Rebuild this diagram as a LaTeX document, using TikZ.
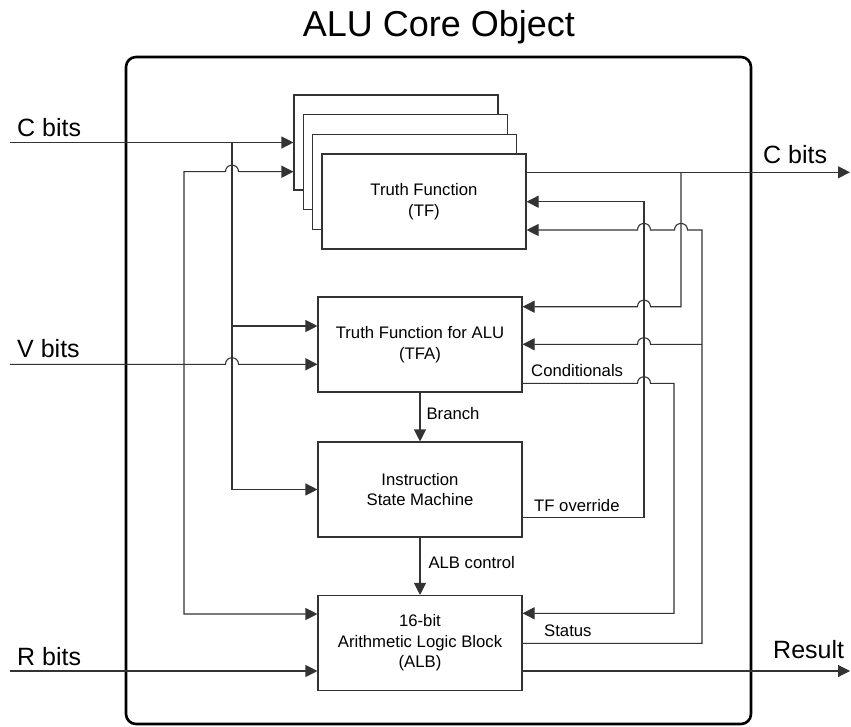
\documentclass[tikz,border=0pt]{standalone}
\usepackage{fontspec}
\setmainfont{Liberation Sans}
\usetikzlibrary{arrows.meta}

\begin{document}
\begin{tikzpicture}[x=1pt,y=-1pt,
  box/.style={draw=black!80, line width=1.1pt, fill=white, minimum width=204pt,
    minimum height=95pt, inner sep=0pt, align=center,
    font=\fontsize{16.7}{20.5}\selectfont},
  conn/.style={draw=black!80, line width=1.1pt},
  arr/.style={conn, -{Triangle[length=12pt,width=12pt]}},
  biarr/.style={conn, {Triangle[length=12pt,width=12pt]}-{Triangle[length=12pt,width=12pt]}},
  lbl/.style={font=\fontsize{16.7}{20.5}\selectfont, inner sep=0pt},
  biglbl/.style={font=\fontsize{25}{30}\selectfont, inner sep=0pt, anchor=base west},
  frame/.style={draw=black, line width=2.6pt, rounded corners=10pt}]

\useasboundingbox (0,0) rectangle (851,727);

% title and enclosing object
\node[font=\fontsize{36}{42}\selectfont, inner sep=0pt, anchor=base] (title) at (439,37) {ALU Core Object};
\draw[frame] (126,57) rectangle (751,724);

% stack of truth function instances, back to front
\node[box] (tf1) at (396,142.5) {};
\node[box] (tf2) at (405.3,162) {};
\node[box] (tf3) at (414.6,181.7) {};
\node[box] (tf4) at (424,201.5) {Truth Function\\(TF)};

% main blocks
\node[box] (tfa) at (420,344.5) {Truth Function for ALU\\(TFA)};
\node[box] (ism) at (420,489.5) {Instruction\\State Machine};
\node[box] (alb) at (420,643) {16-bit\\Arithmetic Logic Block\\(ALB)};

% bus points
\coordinate (cin) at (10,142.5);
\coordinate (vin) at (10,364.3);
\coordinate (rin) at (10,671);
\coordinate (jC) at (232,142.5);
\coordinate (jA) at (232,326);
\coordinate (bT) at (184,171.7);
\coordinate (bA) at (184,614);
\coordinate (cout) at (850,172.3);
\coordinate (jO) at (681,172.3);
\coordinate (kO) at (681,306.7);
\coordinate (ovr) at (644,517.3);
\coordinate (ovrT) at (644,201.7);
\coordinate (st) at (702,643.3);
\coordinate (stT) at (702,230);
\coordinate (stM) at (702,344.3);
\coordinate (cond) at (674,383.3);
\coordinate (condB) at (674,613.3);
\coordinate (res) at (850,671);

% inputs on the left
\draw[arr] (cin) -- (tf1.west);
\draw[arr] (jC) |- (ism.west);
\draw[arr] (jA) -- (tfa.west |- jA);
\draw[biarr] (tf1.west |- bT) -- (238.5,171.7)
  .. controls (238.5,163) and (225.5,163) .. (225.5,171.7) -- (bT) |- (alb.west |- bA);
\draw[arr] (vin) -- (225.5,364.3)
  .. controls (225.5,355.6) and (238.5,355.6) .. (238.5,364.3) -- (tfa.west |- vin);
\draw[arr] (rin) -- (alb.west |- rin);

% control flow down the middle
\draw[arr] (tfa.south) -- node[lbl, anchor=base west, xshift=6pt, yshift=-2pt] {Branch} (ism.north);
\draw[arr] (ism.south) -- node[lbl, anchor=base west, xshift=8pt, yshift=-2pt] {ALB control} (alb.north);

% outputs and feedback on the right
\draw[arr] (tf4.east |- cout) -- (cout);
\draw[arr] (jO) -- (kO) -- (650.5,306.7)
  .. controls (650.5,298) and (637.5,298) .. (637.5,306.7) -- (tfa.east |- kO);
\draw[arr] (ism.east |- ovr) -- (ovr) -- (ovrT) -- (tf4.east |- ovrT);
\draw[arr] (alb.east |- st) -- (st) -- (stT) -- (687.5,230)
  .. controls (687.5,221.3) and (674.5,221.3) .. (674.5,230) -- (650.5,230)
  .. controls (650.5,221.3) and (637.5,221.3) .. (637.5,230) -- (tf4.east |- stT);
\draw[arr] (stM) -- (650.5,344.3)
  .. controls (650.5,335.6) and (637.5,335.6) .. (637.5,344.3) -- (tfa.east |- stM);
\draw[arr] (tfa.east |- cond) -- (637.5,383.3)
  .. controls (637.5,374.6) and (650.5,374.6) .. (650.5,383.3) -- (cond) -- (condB) -- (alb.east |- condB);
\draw[arr] (alb.east |- res) -- (res);

% signal labels
\node[lbl, anchor=base west] (lcond) at (531,376.7) {Conditionals};
\node[lbl, anchor=base west] (lovr) at (534,511) {TF override};
\node[lbl, anchor=base west] (lst) at (544,636) {Status};
\node[biglbl] (lcin) at (17,137) {C bits};
\node[biglbl] (lvin) at (17,357.7) {V bits};
\node[biglbl] (lrin) at (17,665) {R bits};
\node[biglbl] (lcout) at (763,163.3) {C bits};
\node[biglbl] (lres) at (773,658.3) {Result};
\end{tikzpicture}
\end{document}
